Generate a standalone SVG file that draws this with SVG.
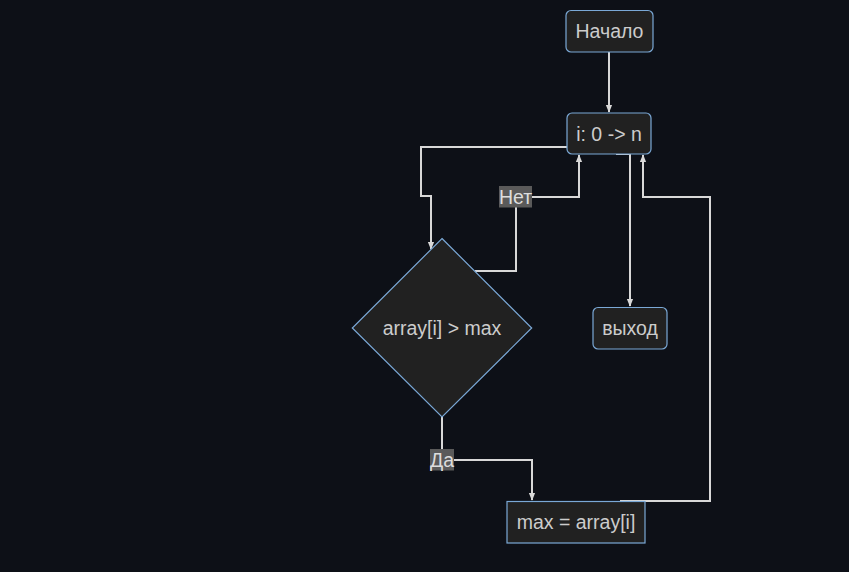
<svg xmlns="http://www.w3.org/2000/svg" width="849" height="572" viewBox="0 0 849 572">
<style>
.node{fill:#212121;stroke:#7aa8d6;stroke-width:1.2}
.lbl{font-family:"Liberation Sans",Arial,sans-serif;font-size:19.5px;fill:#cccccc;text-anchor:middle;dominant-baseline:central}
.edge{fill:none;stroke:#d8d8d8;stroke-width:2}
.ebg{fill:#5a5a5a}
</style>
<defs>
<marker id="arr" viewBox="0 0 10 10" refX="9" refY="5" markerWidth="8" markerHeight="8" orient="auto-start-reverse" markerUnits="userSpaceOnUse">
<path d="M0,1 L10,5 L0,9 z" fill="#d8d8d8"/>
</marker>
</defs>
<rect width="849" height="572" fill="#0d1017"/>
<g id="edges">
<path class="edge" d="M609,52 V112" marker-end="url(#arr)"/>
<path class="edge" d="M567,147 H421 V196 H431 V249" marker-end="url(#arr)"/>
<path class="edge" d="M475,271 H516 V197 H579 V155" marker-end="url(#arr)"/>
<path class="edge" d="M616,154 H630 V306" marker-end="url(#arr)"/>
<path class="edge" d="M620,501 H710 V197 H643 V155" marker-end="url(#arr)"/>
<path class="edge" d="M442,417 V460 H532 V500" marker-end="url(#arr)"/>
<g id="label-net"><rect class="ebg" x="499" y="186" width="33" height="21.5"/><text class="lbl" x="515.5" y="197" style="fill:#dddddd">Нет</text></g>
<g id="label-da"><rect class="ebg" x="430" y="449" width="24" height="21.5"/><text class="lbl" x="442" y="460" style="fill:#dddddd">Да</text></g>
</g>
<g id="start"><rect class="node" x="566" y="10.5" width="87" height="41.5" rx="5"/><text class="lbl" x="609.5" y="31">Начало</text></g>
<g id="loop"><rect class="node" x="567" y="113" width="84" height="41" rx="5"/><text class="lbl" x="609" y="133.5">i: 0 -&gt; n</text></g>
<g id="cond"><polygon class="node" points="442,238.5 531.7,328 442,417 352.3,328"/><text class="lbl" x="442" y="327.5">array[i] &gt; max</text></g>
<g id="exit"><rect class="node" x="593" y="307.5" width="74" height="41.5" rx="5"/><text class="lbl" x="630" y="328">выход</text></g>
<g id="assign"><rect class="node" x="507" y="501.5" width="138" height="41.5"/><text class="lbl" x="576" y="522">max = array[i]</text></g>
</svg>
